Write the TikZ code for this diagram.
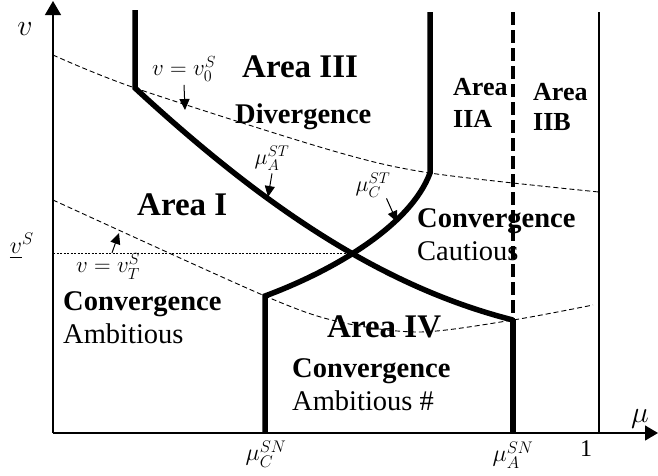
\documentclass[tikz,border=0pt]{standalone}
\usepackage{fix-cm}
\usepackage{amsmath}
\usepackage{fontspec}
\setmainfont{Liberation Serif}
\usetikzlibrary{calc, positioning}
\usetikzlibrary{arrows.meta}
\usetikzlibrary{intersections}

\begin{document}
\begin{tikzpicture}[x=1pt,y=-1pt,
    axisline/.style={line width=1.3pt},
    boundary/.style={line width=5.5pt},
    guide/.style={line width=0.9pt,dash pattern=on 5pt off 3pt},
    pointer/.style={line width=1pt,-{Triangle[length=11pt,width=10pt]}},
    bigtext/.style={anchor=base west,inner sep=0pt,font=\bfseries\fontsize{33}{36}\selectfont},
    midtext/.style={anchor=base west,inner sep=0pt,font=\bfseries\fontsize{28.5}{33}\selectfont},
    plaintext/.style={anchor=base west,inner sep=0pt,font=\fontsize{28.5}{33}\selectfont},
    subtext/.style={anchor=base west,inner sep=0pt,font=\bfseries\fontsize{26}{30}\selectfont},
    mathlabel/.style={inner sep=0pt,font=\fontsize{24}{28}\selectfont}]
\useasboundingbox (0,0) rectangle (658,475);

\coordinate (Origin) at (53,433);
\coordinate (Ytip) at (53,1);
\coordinate (Xtip) at (658,433);
\coordinate (Akink) at (135,88);
\coordinate (Aend) at (513,320);
\coordinate (Ckink) at (430,173);
\coordinate (Cfoot) at (265,296);

% Axes and the line mu = 1
\draw[axisline,-{Triangle[length=14pt,width=16pt]}] (Origin) -- (Ytip);
\draw[axisline,-{Triangle[length=13pt,width=15pt]}] (Origin) -- (Xtip);
\draw[axisline] (599,12) -- (599,432);

% Thin dashed level curves
\draw[guide] plot[smooth] coordinates {(53,55) (Akink) (330,150) (Ckink) (599,192)};
\draw[guide] plot[smooth] coordinates {(53,200) (Cfoot) (340,322) (420,332) (Aend) (593,305)};

% Thick boundaries
\draw[boundary,name path=muA] (135,10) -- (Akink)
    .. controls (265,208) and (383,287) .. (Aend);
\draw[boundary,name path=muC] (Cfoot |- Origin) -- (Cfoot)
    .. controls (330,272) and (410,227) .. (Ckink) -- (430,12);
\draw[boundary] (Aend) -- (Aend |- Origin);
\draw[line width=4pt,dash pattern=on 13pt off 5pt] (513,12) -- (Aend);

% Crossing of the two boundaries and the level v^S
\path[name intersections={of=muA and muC, by=Cross}];
\draw[line width=0.8pt,dash pattern=on 2pt off 1.5pt] (Cross -| Origin) -- (Cross);
\node[mathlabel,anchor=base east,xshift=-19pt]
    (vunder) at (Cross -| Origin) {$\underline{v}^S$};

% Axis labels and ticks
\node[mathlabel,font=\fontsize{30}{34}\selectfont] (vaxis) at (25,29) {$v$};
\node[mathlabel,font=\fontsize{30}{34}\selectfont] (muaxis) at (640,419) {$\mu$};
\node[mathlabel] (one) at (586,449) {1};
\node[mathlabel] (muCSN) at (266,454) {$\mu_C^{SN}$};
\node[mathlabel] (muASN) at (513,455) {$\mu_A^{SN}$};

% Curve labels with pointers
\coordinate (v0tip) at (185,110);
\coordinate (vTtip) at (119,233);
\coordinate (muAtip) at (268,197);
\coordinate (muCtip) at (397,222);
\node[mathlabel,font=\fontsize{23}{27}\selectfont] (v0label) at (184,69) {$v=v_0^S$};
\node[mathlabel,font=\fontsize{23}{27}\selectfont] (vTlabel) at (108,266) {$v=v_T^S$};
\node[mathlabel,font=\fontsize{22}{26}\selectfont] (muAlabel) at (272,158) {$\mu_A^{ST}$};
\node[mathlabel,font=\fontsize{22}{26}\selectfont] (muClabel) at (373,185) {$\mu_C^{ST}$};
\draw[pointer] ([yshift=-3pt]v0label.south) -- (v0tip);
\draw[pointer] ([xshift=4pt]vTlabel.north) -- (vTtip);
\draw[pointer] ([yshift=-3pt]muAlabel.south) -- (muAtip);
\draw[pointer] ([xshift=-4pt,yshift=-1pt]muClabel.south east) -- (muCtip);

% Area texts
\node[bigtext] (areaIII) at (242,77) {Area III};
\node[midtext] (divergence) at (235,123) {Divergence};
\node[bigtext] (areaI) at (137,215) {Area I};
\node[subtext] (areaIIAtop) at (453,95) {Area};
\node[subtext] (areaIIAbot) at (453,127) {IIA};
\node[subtext] (areaIIBtop) at (533,100) {Area};
\node[subtext] (areaIIBbot) at (533,130) {IIB};
\node[midtext] (convC) at (417,227) {Convergence};
\node[plaintext] (cautious) at (417,260) {Cautious};
\node[midtext] (convA) at (63,310) {Convergence};
\node[plaintext] (ambitious) at (63,343) {Ambitious};
\node[bigtext] (areaIV) at (327,337) {Area IV};
\node[midtext] (convB) at (292,377) {Convergence};
\node[plaintext] (ambitiousB) at (292,410) {Ambitious \#};
\end{tikzpicture}
\end{document}
